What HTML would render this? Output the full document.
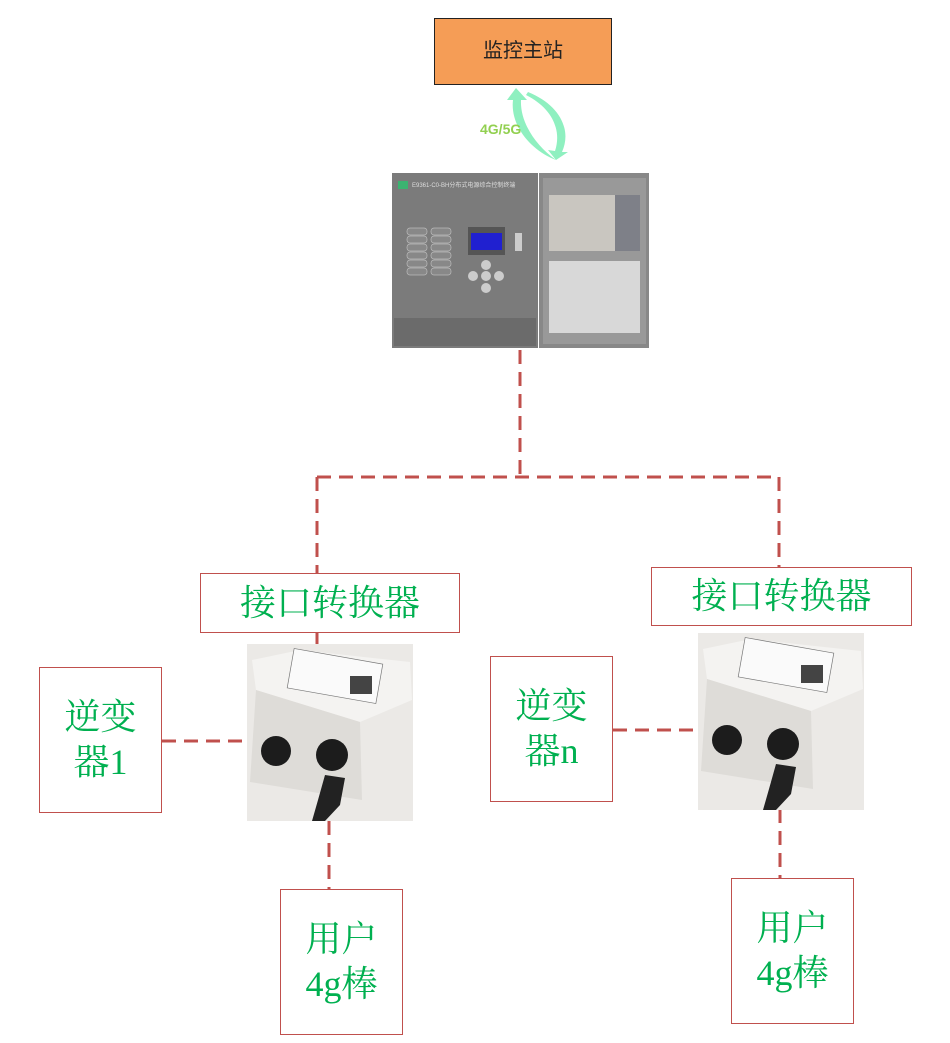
<!DOCTYPE html>
<html><head><meta charset="utf-8"><style>
body{margin:0;width:950px;height:1043px;background:#fff;position:relative;overflow:hidden;font-family:"Liberation Serif","Noto Serif CJK SC",serif}
.b{position:absolute;box-sizing:border-box;border:1px solid #c0504d;background:#fff;color:#00b050;text-align:center;display:flex;align-items:center;justify-content:center;line-height:1.25}
</style></head><body>
<svg width="950" height="1043" style="position:absolute;left:0;top:0">
<g stroke="#c0504d" stroke-width="3" stroke-dasharray="14 8" fill="none">
<path d="M520 350V477M317 477H779M317 477V573M779 477V567M162 741H247M613 730H698M329 821V889M780 809V878M317 633V644"/>
</g>
<!-- arrows -->
<path d="M528 92 C560 105 572 130 562 152 L568 152 L556 160 L548 150 L555 151 C562 130 552 108 526 95Z" fill="#8ff0c0"/>
<path d="M516 88 L507 100 L513 100 C510 125 530 150 556 160 C535 145 520 122 521 100 L527 100Z" fill="#8ff0c0"/>
<text x="480" y="134" font-family="Liberation Sans" font-weight="bold" font-size="14" fill="#92d050">4G/5G</text>
<!-- device -->
<rect x="392" y="173" width="146" height="175" fill="#7b7b7b"/>
<rect x="539" y="173" width="110" height="175" fill="#888"/>
<rect x="543" y="178" width="103" height="166" fill="#999"/>
<rect x="549" y="195" width="91" height="56" fill="#c9c6c0"/>
<rect x="615" y="195" width="25" height="56" fill="#7e8088"/>
<rect x="549" y="261" width="91" height="72" fill="#d8d8d8"/>
<rect x="468" y="227" width="37" height="28" fill="#555"/>
<rect x="471" y="233" width="31" height="17" fill="#2020d0"/>
<rect x="394" y="318" width="142" height="28" fill="#6b6b6b"/>
<text x="412" y="187" font-size="6" fill="#ddd" font-family="Liberation Sans">E9361-C0-BH分布式电源综合控制终端</text>
<rect x="398" y="181" width="10" height="8" fill="#3cb371"/>
<g fill="#ccc"><circle cx="486" cy="265" r="5"/><circle cx="486" cy="288" r="5"/><circle cx="473" cy="276" r="5"/><circle cx="499" cy="276" r="5"/><circle cx="486" cy="276" r="5"/><rect x="515" y="233" width="7" height="18"/></g>
<g fill="#888" stroke="#bbb" stroke-width=".7"><rect x="407" y="228" width="20" height="7" rx="3"/><rect x="407" y="236" width="20" height="7" rx="3"/><rect x="407" y="244" width="20" height="7" rx="3"/><rect x="407" y="252" width="20" height="7" rx="3"/><rect x="407" y="260" width="20" height="7" rx="3"/><rect x="407" y="268" width="20" height="7" rx="3"/><rect x="431" y="228" width="20" height="7" rx="3"/><rect x="431" y="236" width="20" height="7" rx="3"/><rect x="431" y="244" width="20" height="7" rx="3"/><rect x="431" y="252" width="20" height="7" rx="3"/><rect x="431" y="260" width="20" height="7" rx="3"/><rect x="431" y="268" width="20" height="7" rx="3"/></g>
<!-- converters -->
<g id="c1">
<rect x="247" y="644" width="166" height="177" fill="#ebe9e6"/>
<path d="M252 660 L300 650 L410 662 L412 700 L360 722 L256 690Z" fill="#f4f3f1"/>
<path d="M256 690 L360 722 L362 800 L250 782Z" fill="#dedcd8"/>
<rect x="290" y="656" width="90" height="40" fill="#fafafa" stroke="#777" stroke-width=".7" transform="rotate(10 335 676)"/>
<rect x="350" y="676" width="22" height="18" fill="#444"/>
<circle cx="276" cy="751" r="15" fill="#1c1c1c"/><circle cx="332" cy="755" r="16" fill="#1c1c1c"/>
<path d="M325 775 L345 778 L340 805 L325 821 L312 821 L318 800Z" fill="#222"/>
</g>
<g transform="translate(451 -11)">
<rect x="247" y="644" width="166" height="177" fill="#ebe9e6"/>
<path d="M252 660 L300 650 L410 662 L412 700 L360 722 L256 690Z" fill="#f4f3f1"/>
<path d="M256 690 L360 722 L362 800 L250 782Z" fill="#dedcd8"/>
<rect x="290" y="656" width="90" height="40" fill="#fafafa" stroke="#777" stroke-width=".7" transform="rotate(10 335 676)"/>
<rect x="350" y="676" width="22" height="18" fill="#444"/>
<circle cx="276" cy="751" r="15" fill="#1c1c1c"/><circle cx="332" cy="755" r="16" fill="#1c1c1c"/>
<path d="M325 775 L345 778 L340 805 L325 821 L312 821 L318 800Z" fill="#222"/>
</g>
</svg>
<div class="b" style="left:434px;top:18px;width:178px;height:67px;background:#f59d56;border-color:#222;color:#222;font-size:20px;font-family:'Liberation Sans','Noto Sans CJK SC',sans-serif">监控主站</div>
<div class="b" style="left:200px;top:573px;width:260px;height:60px;font-size:36px">接口转换器</div>
<div class="b" style="left:651px;top:567px;width:261px;height:59px;font-size:36px">接口转换器</div>
<div class="b" style="left:39px;top:667px;width:123px;height:146px;font-size:36px">逆变<br>器1</div>
<div class="b" style="left:490px;top:656px;width:123px;height:146px;font-size:36px">逆变<br>器n</div>
<div class="b" style="left:280px;top:889px;width:123px;height:146px;font-size:36px">用户<br>4g棒</div>
<div class="b" style="left:731px;top:878px;width:123px;height:146px;font-size:36px">用户<br>4g棒</div>
</body></html>
